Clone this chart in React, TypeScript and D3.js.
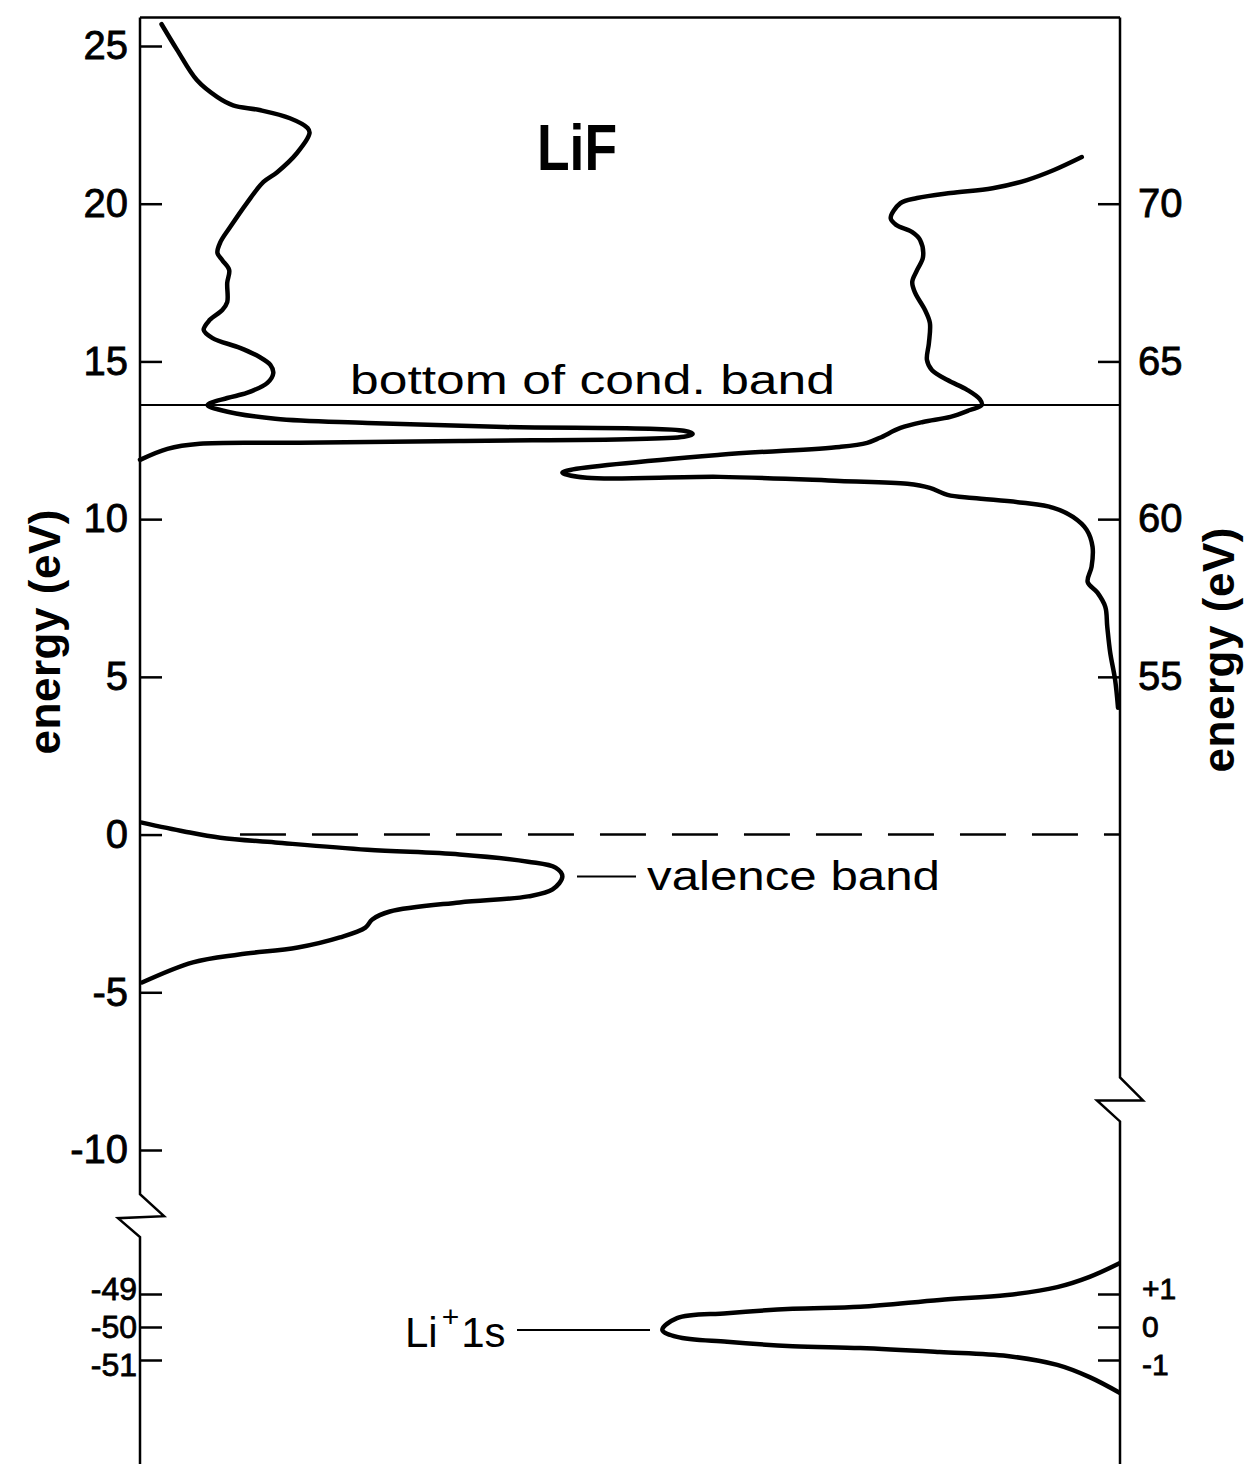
import { useEffect, useRef } from 'react'
import * as d3 from 'd3'

const W = 1260
const H = 1464
const FONT = '"Liberation Sans", Arial, sans-serif'

// energy ticks (eV)
const LEFT_TICKS = [25, 20, 15, 10, 5, 0, -5, -10]
const RIGHT_TICKS = [70, 65, 60, 55]
const CORE_TICKS = [-49, -50, -51]
const CORE_TICKS_RIGHT = [1, 0, -1]

const TOP_E = 25.9
const COND_BOTTOM = 13.62
const VALENCE_PEAK = -1.33
const CORE_PEAK = -50.09
const BREAK_LEFT = -11.4
const BREAK_RIGHT = -7.7

// curves: [intensity (arb. 0-100), energy (eV)]
const condLeft = [
  [2.2, 25.69], [3.8, 24.87], [5.8, 23.92], [7.9, 23.38], [9.5, 23.12], [12.2, 22.97],
  [15.3, 22.71], [17.1, 22.4], [17.3, 22.24], [16.0, 21.6], [14.0, 21.0], [12.6, 20.69],
  [10.9, 20.02], [9.2, 19.26], [8.2, 18.78], [7.9, 18.44], [8.4, 18.21], [9.1, 17.9],
  [8.9, 17.49], [8.9, 16.88], [8.4, 16.63], [7.1, 16.31], [6.5, 16.0], [7.4, 15.74],
  [10.2, 15.43], [12.2, 15.14], [13.3, 14.89], [13.6, 14.63], [13.0, 14.32], [10.9, 14.0],
  [8.9, 13.84], [6.9, 13.62], [8.2, 13.46], [13.8, 13.18], [23.2, 13.05], [37.2, 12.92],
  [55.5, 12.8], [56.4, 12.7], [55.5, 12.61], [32.6, 12.48], [16.3, 12.42], [6.1, 12.39],
  [2.8, 12.23], [0, 11.88],
]

const condRight = [
  [96.1, 21.48], [93.2, 21.06], [90.5, 20.75], [87.0, 20.49], [82.7, 20.34], [79.3, 20.18],
  [77.6, 20.02], [76.6, 19.54], [77.2, 19.32], [78.8, 19.1], [79.6, 18.85], [79.9, 18.31],
  [79.3, 17.9], [78.8, 17.52], [79.1, 17.17], [80.1, 16.63], [80.6, 16.22], [80.5, 15.58],
  [80.3, 15.05], [80.8, 14.73], [82.4, 14.41], [84.4, 14.1], [85.7, 13.8], [85.9, 13.62],
  [84.7, 13.46], [82.7, 13.24], [79.9, 13.08], [77.6, 12.89], [75.5, 12.58], [74.2, 12.42],
  [71.4, 12.29], [59.2, 12.04], [43.9, 11.56], [43.1, 11.47], [45.6, 11.31], [59.2, 11.34],
  [71.4, 11.21], [78.3, 11.12], [80.6, 10.99], [82.4, 10.77], [85.0, 10.67], [90.1, 10.52],
  [93.2, 10.36], [95.2, 10.07], [96.6, 9.66], [97.2, 9.12], [97.1, 8.49], [96.7, 8.01],
  [97.7, 7.67], [98.5, 7.22], [98.7, 6.59], [99.0, 5.77], [99.5, 4.91], [99.8, 4.02],
]

const valence = [
  [0.2, 0.38], [4.5, 0.1], [8.2, -0.1], [13.8, -0.25], [23.2, -0.48], [32.6, -0.63],
  [39.6, -0.86], [42.4, -1.05], [43.1, -1.33], [42.1, -1.74], [39.6, -1.96], [32.6, -2.15],
  [25.5, -2.44], [23.7, -2.69], [23.0, -2.95], [20.4, -3.26], [16.1, -3.58], [10.1, -3.8],
  [5.4, -4.05], [0.2, -4.69],
]

const li1s = [
  [100, -48.06], [96.9, -48.48], [93.6, -48.79], [88.5, -49.03], [81.6, -49.18], [73.5, -49.39],
  [66.6, -49.45], [59.9, -49.58], [54.8, -49.73], [53.3, -50.09], [54.8, -50.3], [59.9, -50.45],
  [66.6, -50.58], [73.5, -50.64], [81.6, -50.76], [88.5, -50.88], [93.6, -51.15], [96.9, -51.52],
  [100, -52.0],
]

export default function App() {
  const svgRef = useRef<SVGSVGElement | null>(null)

  useEffect(() => {
    const svg = d3.select(svgRef.current)
    svg.selectAll('*').remove()

    const x = d3.scaleLinear().domain([0, 100]).range([140, 1120])
    const y = d3.scaleLinear().domain([-10, 25]).range([1150, 46])
    const yR = d3.scaleLinear().domain([40, 75]).range([1150, 46]) // right scale = left + 50 eV
    const yC = d3.scaleLinear().domain([-51, -49]).range([1360, 1294])
    const yCR = d3.scaleLinear().domain([-1, 1]).range([1360, 1294])

    const x0 = x(0)
    const x1 = x(100)
    const yTop = y(TOP_E)

    // frame + broken axes
    svg.append('path')
      .attr('d', `M${x0},${yTop}H${x1}`)
      .attr('stroke', '#000').attr('stroke-width', 2.5).attr('fill', 'none')
    svg.append('path')
      .attr('d', `M${x0},${yTop}V${y(BREAK_LEFT)}l24,22l-46,2l22,19V${H}`)
      .attr('stroke', '#000').attr('stroke-width', 2.5).attr('fill', 'none')
    svg.append('path')
      .attr('d', `M${x1},${yTop}V${yR(BREAK_RIGHT + 50)}l23,23l-46,0l23,21V${H}`)
      .attr('stroke', '#000').attr('stroke-width', 2.5).attr('fill', 'none')

    const styleAxis = (g: any, size: number) => {
      g.select('.domain').remove()
      g.selectAll('line').attr('stroke', '#000').attr('stroke-width', 2.5)
      g.selectAll('text')
        .attr('font-size', size)
        .attr('font-family', FONT)
        .attr('fill', '#000')
        .attr('stroke', '#000')
        .attr('stroke-width', 0.8)
    }
    // core-level labels are crowded: nudge the outer two apart
    const spread = (g: any) => {
      g.selectAll('.tick text').attr('y', (_: any, i: number) => (i - 1) * 5)
    }

    svg.append('g')
      .attr('transform', `translate(${x0},0)`)
      .call(d3.axisLeft(y).tickValues(LEFT_TICKS).tickSizeInner(-22).tickSizeOuter(0)
        .tickPadding(12).tickFormat((d: any) => String(d)))
      .call((g: any) => styleAxis(g, 40))

    svg.append('g')
      .attr('transform', `translate(${x0},0)`)
      .call(d3.axisLeft(yC).tickValues(CORE_TICKS).tickSizeInner(-22).tickSizeOuter(0)
        .tickPadding(3).tickFormat((d: any) => String(d)))
      .call((g: any) => styleAxis(g, 32))
      .call(spread)

    svg.append('g')
      .attr('transform', `translate(${x1},0)`)
      .call(d3.axisRight(yR).tickValues(RIGHT_TICKS).tickSizeInner(-22).tickSizeOuter(0)
        .tickPadding(18).tickFormat((d: any) => String(d)))
      .call((g: any) => styleAxis(g, 40))

    svg.append('g')
      .attr('transform', `translate(${x1},0)`)
      .call(d3.axisRight(yCR).tickValues(CORE_TICKS_RIGHT).tickSizeInner(-22).tickSizeOuter(0)
        .tickPadding(22).tickFormat((d: any) => (d > 0 ? `+${d}` : String(d))))
      .call((g: any) => styleAxis(g, 30))
      .call(spread)

    // reference lines
    svg.append('line')
      .attr('x1', x0).attr('x2', x1)
      .attr('y1', y(COND_BOTTOM)).attr('y2', y(COND_BOTTOM))
      .attr('stroke', '#000').attr('stroke-width', 2)
    svg.append('line')
      .attr('x1', x(10.2)).attr('x2', x1)
      .attr('y1', y(0)).attr('y2', y(0))
      .attr('stroke', '#000').attr('stroke-width', 2.5)
      .attr('stroke-dasharray', '46,26')

    // curves
    const curve = d3.curveCatmullRom.alpha(0.5)
    const lineUp = d3.line<number[]>().x(d => x(d[0])).y(d => y(d[1])).curve(curve)
    const lineCore = d3.line<number[]>().x(d => x(d[0])).y(d => yC(d[1])).curve(curve)

    ;[condLeft, condRight, valence].forEach(data => {
      svg.append('path')
        .datum(data)
        .attr('d', lineUp)
        .attr('fill', 'none')
        .attr('stroke', '#000')
        .attr('stroke-width', 4.5)
        .attr('stroke-linejoin', 'round')
        .attr('stroke-linecap', 'round')
    })
    svg.append('path')
      .datum(li1s)
      .attr('d', lineCore)
      .attr('fill', 'none')
      .attr('stroke', '#000')
      .attr('stroke-width', 4.5)
      .attr('stroke-linejoin', 'round')

    // leader lines
    svg.append('line')
      .attr('x1', 577).attr('x2', 636)
      .attr('y1', y(VALENCE_PEAK)).attr('y2', y(VALENCE_PEAK))
      .attr('stroke', '#000').attr('stroke-width', 2)
    svg.append('line')
      .attr('x1', 517).attr('x2', 650)
      .attr('y1', yC(CORE_PEAK)).attr('y2', yC(CORE_PEAK))
      .attr('stroke', '#000').attr('stroke-width', 2)

    // labels
    const text = (tx: number, ty: number, s: string, size: number, len?: number, weight = 'normal') => {
      const t = svg.append('text')
        .attr('x', tx).attr('y', ty)
        .attr('font-family', FONT)
        .attr('font-size', size)
        .attr('font-weight', weight)
        .attr('fill', '#000')
        .text(s)
      if (len) t.attr('textLength', len).attr('lengthAdjust', 'spacingAndGlyphs')
      return t
    }
    text(537, 170, 'LiF', 64, 80, 'bold')
    text(350, 394, 'bottom  of  cond.  band', 40, 485)
    text(647, 890, 'valence  band', 40, 293)

    const li = svg.append('text')
      .attr('x', 405).attr('y', 1347)
      .attr('font-family', FONT)
      .attr('font-size', 42)
      .attr('fill', '#000')
    li.append('tspan').text('Li')
    li.append('tspan').attr('dy', -20).attr('font-size', 30).attr('dx', 4).text('+')
    li.append('tspan').attr('dy', 20).attr('dx', 2).text('1s')

    // axis titles
    const title = (cx: number, cy: number) => {
      svg.append('text')
        .attr('transform', `translate(${cx},${cy}) rotate(-90)`)
        .attr('text-anchor', 'middle')
        .attr('font-family', FONT)
        .attr('font-size', 44)
        .attr('font-weight', 'bold')
        .attr('fill', '#000')
        .attr('textLength', 245)
        .attr('lengthAdjust', 'spacing')
        .text('energy  (eV)')
    }
    title(60, 632)
    title(1234, 650)
  }, [])

  return (
    <svg
      ref={svgRef}
      width={W}
      height={H}
      style={{ position: 'absolute', left: 0, top: 0, display: 'block', background: '#fff' }}
    />
  )
}
